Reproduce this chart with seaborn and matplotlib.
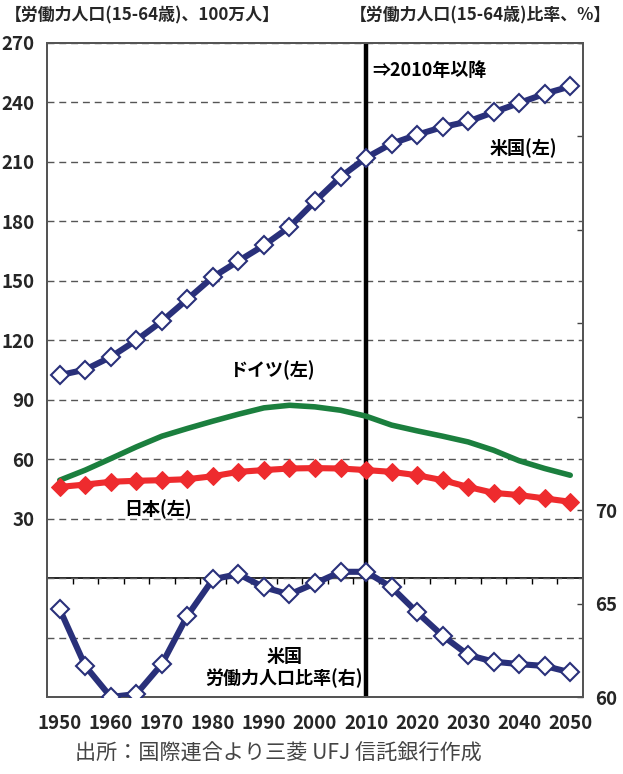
import matplotlib
matplotlib.use("Agg")
import matplotlib.pyplot as plt
import seaborn as sns
import pandas as pd
import numpy as np

# Working-age population (15-64), millions, and US working-age share, %
years = list(range(1950, 2051, 5))
us_pop = [102.4, 105.2, 111.6, 120.0, 129.6, 140.7, 151.9, 160.0, 167.9, 177.2, 190.1,
          202.4, 212.1, 219.2, 223.7, 227.6, 230.4, 235.1, 239.7, 244.4, 248.1]
germany_pop = [49.4, 54.5, 60.3, 66.2, 71.6, 75.5, 79.2, 82.7, 85.9, 87.2, 86.4,
               84.7, 81.7, 77.2, 74.3, 71.6, 68.7, 64.5, 59.2, 55.3, 51.9]
japan_pop = [46.0, 47.2, 48.6, 49.1, 49.4, 49.9, 51.4, 53.6, 54.5, 55.3, 55.5,
             55.3, 54.5, 53.6, 51.9, 49.4, 46.0, 43.0, 41.9, 40.2, 38.5]
us_ratio = [64.69, 61.66, 60.00, 60.16, 61.76, 64.35, 66.30, 66.58, 65.87, 65.49, 66.08,
            66.70, 66.70, 65.87, 64.53, 63.28, 62.25, 61.89, 61.76, 61.66, 61.32]

left_ticks = [30, 60, 90, 120, 150, 180, 210, 240, 270]
right_ticks = [60, 65, 70]
x_labels = list(range(1950, 2051, 10))

NAVY = "#29307A"
RED = "#EE2B2E"
GREEN = "#1B7F3E"

sns.set_style("white")
NUM_FONT = ["Liberation Sans Narrow", "Noto Sans CJK JP", "DejaVu Sans"]
CJK_FONT = ["Noto Sans CJK JP", "DejaVu Sans"]
plt.rcParams["font.family"] = NUM_FONT

df = pd.DataFrame({"year": years, "us": us_pop, "de": germany_pop,
                   "jp": japan_pop, "ratio": us_ratio})

fig = plt.figure(figsize=(6.23, 7.74), dpi=100)
ax = fig.add_axes([47 / 623, 1 - 697 / 774, (583 - 47) / 623, (697 - 43) / 774])
ax2 = ax.twinx()

# left axis: population lines
sns.lineplot(data=df, x="year", y="de", ax=ax, color=GREEN, lw=4.0, zorder=3)
sns.lineplot(data=df, x="year", y="jp", ax=ax, color=RED, lw=4.4, marker="D",
             markersize=9, markerfacecolor=RED, markeredgecolor=RED, zorder=4)
sns.lineplot(data=df, x="year", y="us", ax=ax, color=NAVY, lw=4.4, marker="D",
             markersize=9, markerfacecolor="white", markeredgecolor=NAVY,
             markeredgewidth=1.5, zorder=5)
# right axis: US working-age share
sns.lineplot(data=df, x="year", y="ratio", ax=ax2, color=NAVY, lw=4.4, marker="D",
             markersize=9, markerfacecolor="white", markeredgecolor=NAVY,
             markeredgewidth=1.5, zorder=5)

ax.set_xlim(1947.5, 2052.5)
ax.set_ylim(-60, 270)
ax2.set_ylim(60, 95)

# 2010 divider
ax.axvline(2010, color="black", lw=3.2, zorder=2)

# dashed grid on the left scale
ax.set_yticks([-30, 0] + left_ticks)
ax.set_yticklabels(["", ""] + [str(v) for v in left_ticks])
ax.yaxis.grid(True, color="#555555", ls=(0, (5, 3.5)), lw=1.0)
ax.set_axisbelow(True)
ax.tick_params(axis="y", direction="in", length=0, pad=9, labelsize=13.5)
for t in ax.get_yticklabels():
    t.set_fontweight("bold")

ax2.set_yticks(np.arange(60, 96, 5))
ax2.set_yticklabels([str(v) if v in right_ticks else "" for v in np.arange(60, 96, 5)])
ax2.tick_params(axis="y", direction="in", length=4, width=1, color="#444444",
                pad=9, labelsize=13.5)
for t in ax2.get_yticklabels():
    t.set_fontweight("bold")

ax.set_xticks(x_labels)
ax.set_xticklabels([str(v) for v in x_labels])
ax.tick_params(axis="x", length=0, pad=12, labelsize=13.5)
for t in ax.get_xticklabels():
    t.set_fontweight("bold")

ax.set_xlabel("")
ax.set_ylabel("")
ax2.set_ylabel("")

for a in (ax, ax2):
    for s in a.spines.values():
        s.set_color("#555555")
        s.set_linewidth(1.4)

# category axis crossing at zero on the left scale
zero_frac = (0 - (-60)) / (270 - (-60))
sec = ax.secondary_xaxis(zero_frac)
sec.set_xticks(np.arange(1952.5, 2050, 5))
sec.set_xticklabels([])
sec.tick_params(direction="out", length=4, width=1, color="black")
for s in sec.spines.values():
    s.set_color("black")
    s.set_linewidth(1.2)

# series labels
lbl = dict(fontsize=13, fontweight="bold", family=CJK_FONT, color="black")
ax.text(2011.2, 256, "⇒2010年以降", ha="left", va="center", **lbl)
ax.text(2040.8, 217, "米国(左)", ha="center", va="center", **lbl)
ax.text(1991.5, 105, "ドイツ(左)", ha="center", va="center", **lbl)
ax.text(1969.2, 35, "日本(左)", ha="center", va="center", **lbl)
ax.text(1994, -45, "米国\n労働力人口比率(右)", ha="center", va="center",
        linespacing=1.15, **lbl)

fig.text(5 / 623, 1 - 15 / 774, "【労働力人口(15-64歳)、100万人】", ha="left",
         va="center", fontsize=12.2, fontweight="bold", family=CJK_FONT)
fig.text(611 / 623, 1 - 15 / 774, "【労働力人口(15-64歳)比率、%】", ha="right",
         va="center", fontsize=12.2, fontweight="bold", family=CJK_FONT)
fig.text(75 / 623, 1 - 754 / 774, "出所：国際連合より三菱 UFJ 信託銀行作成", ha="left",
         va="center", fontsize=15.2, color="#444444", family=CJK_FONT)

fig.savefig("out.png", dpi=100)
